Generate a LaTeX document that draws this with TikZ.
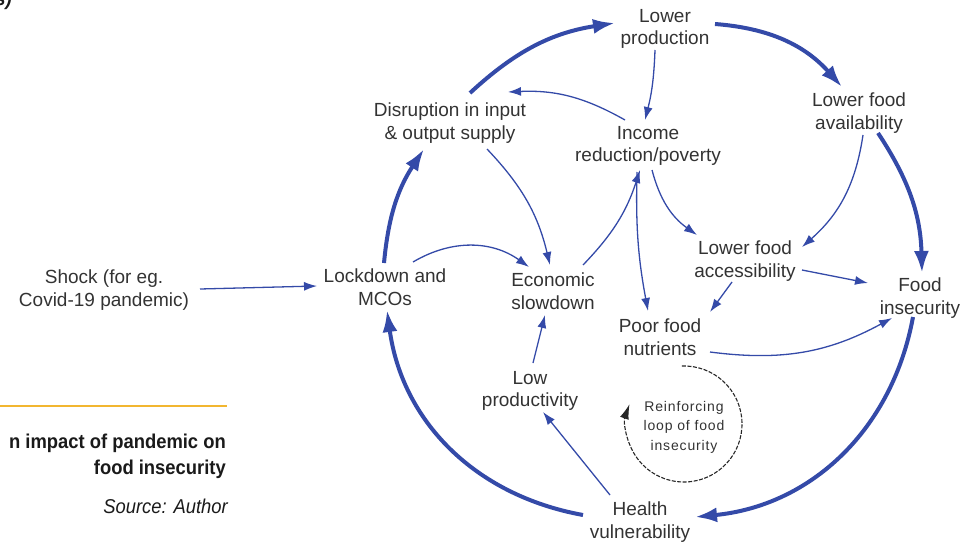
\documentclass[tikz,border=0pt]{standalone}
\usepackage{fontspec}
\setmainfont{Liberation Sans}
\newfontfamily\capfont[FakeStretch=0.92]{Liberation Sans}
\newfontfamily\loopfont[LetterSpace=6]{Liberation Sans}
\usetikzlibrary{arrows.meta}
\definecolor{cblue}{RGB}{52,74,168}
\definecolor{ctext}{RGB}{51,51,51}
\definecolor{corange}{RGB}{242,182,48}
\definecolor{ccap}{RGB}{26,26,26}
\begin{document}
\begin{tikzpicture}[x=1pt,y=1pt,
  lbl/.style={font=\fontsize{19}{22.5}\selectfont, text=ctext, align=center, inner sep=0pt},
  bigarr/.style={draw=cblue, line width=4pt, -{Latex[length=22pt,width=15pt]}},
  smallarr/.style={draw=cblue, line width=1.3pt, -{Latex[length=13pt,width=9pt]}},
  capstyle/.style={font=\capfont\bfseries\fontsize{20}{24}\selectfont, text=ccap, inner sep=0pt, anchor=base east},
]
\useasboundingbox (0,0) rectangle (971,-551);

% caption area
\node[capstyle, font=\capfont\bfseries\itshape\fontsize{20}{24}\selectfont] (frag) at (12,-6) {s)};
\draw[corange, line width=2pt] (0,-405.5) -- (226.5,-405.5);
\node[capstyle] (cap1) at (226,-448) {n impact of pandemic on};
\node[capstyle] (cap2) at (226,-474) {food insecurity};
\node[capstyle, font=\capfont\itshape\fontsize{20}{24}\selectfont] (src) at (228,-513) {Source: Author};

% nodes
\node[lbl] (shock)  at (104,-290) {Shock (for eg.\\Covid-19 pandemic)};
\node[lbl] (lock)   at (385,-287) {Lockdown and\\MCOs};
\node[lbl] (econ)   at (553,-291) {Economic\\slowdown};
\node[lbl] (disr)   at (450,-123) {Disruption in input\\\& output supply};
\node[lbl] (prod)   at (665,-29)  {Lower\\production};
\node[lbl] (inc)    at (648,-146) {Income\\reduction/poverty};
\node[lbl] (avail)  at (859,-113) {Lower food\\availability};
\node[lbl] (access) at (745,-261) {Lower food\\accessibility};
\node[lbl] (fins)   at (920,-298) {Food\\insecurity};
\node[lbl] (nutr)   at (660,-337) {Poor food\\nutrients};
\node[lbl] (lowp)   at (530,-391) {Low\\productivity};
\node[lbl] (health) at (640,-522) {Health\\vulnerability};
\node[font=\loopfont\fontsize{14}{19.5}\selectfont, text=ctext, align=center, inner sep=0pt] (loop) at (684,-427) {Reinforcing\\loop of food\\insecurity};

% main reinforcing cycle (thick)
\draw[bigarr] ([shift={(-1,24)}]lock.center) to[bend left=14] ([shift={(-26,-26)}]disr.center);
\draw[bigarr] ([shift={(20,30)}]disr.center) to[bend left=17] ([shift={(-50,6)}]prod.center);
\draw[bigarr] ([shift={(50,5)}]prod.center) to[bend left=22] ([shift={(-17,26)}]avail.center);
\draw[bigarr] ([shift={(19,-20)}]avail.center) to[bend left=16] ([shift={(2,25)}]fins.center);
\draw[bigarr] ([shift={(-7,-19)}]fins.center) to[bend left=37] ([shift={(55,5)}]health.center);
\draw[bigarr] ([shift={(-57,7)}]health.center) to[bend left=36] ([shift={(2,-23)}]lock.center);

% thin links
\draw[smallarr] ([shift={(96,1)}]shock.center) -- ([shift={(-68,1)}]lock.center);
\draw[smallarr] ([shift={(28,25)}]lock.center) to[bend left=33] ([shift={(-24,24)}]econ.center);
\draw[smallarr] ([shift={(37,-26)}]disr.center) to[bend left=15] ([shift={(-3,26)}]econ.center);
\draw[smallarr] ([shift={(-23,26)}]inc.center) to[bend right=16] ([shift={(58,31)}]disr.center);
\draw[smallarr] ([shift={(-10,-21)}]prod.center) to[bend left=6] ([shift={(-3,26)}]inc.center);
\draw[smallarr] ([shift={(4,-22)}]avail.center) to[bend left=20] ([shift={(57,14)}]access.center);
\draw[smallarr] ([shift={(4,-24)}]inc.center) to[bend right=20] ([shift={(-48,26)}]access.center);
\draw[smallarr] ([shift={(-11,-26)}]inc.center) to[bend right=6] ([shift={(-12,26)}]nutr.center);
\draw[smallarr] ([shift={(30,26)}]econ.center) to[bend right=13] ([shift={(-8,-24)}]inc.center);
\draw[smallarr] ([shift={(3,28)}]lowp.center) -- ([shift={(-8,-24)}]econ.center);
\draw[smallarr] ([shift={(-30,27)}]health.center) -- ([shift={(13,-21)}]lowp.center);
\draw[smallarr] ([shift={(57,-9)}]access.center) -- ([shift={(-52,15)}]fins.center);
\draw[smallarr] ([shift={(-13,-21)}]access.center) -- ([shift={(50,25)}]nutr.center);
\draw[smallarr] ([shift={(50,-15)}]nutr.center) to[bend right=18] ([shift={(-28,-20)}]fins.center);

% reinforcing loop marker
\draw[draw=black!85, line width=1.1pt, dash pattern=on 4pt off 1.5pt, -{Latex[length=15pt,width=9pt]}]
  ([shift={(92:58)}]loop.center) ++(0,3) arc[start angle=92, end angle=-200, radius=58];
\end{tikzpicture}
\end{document}
